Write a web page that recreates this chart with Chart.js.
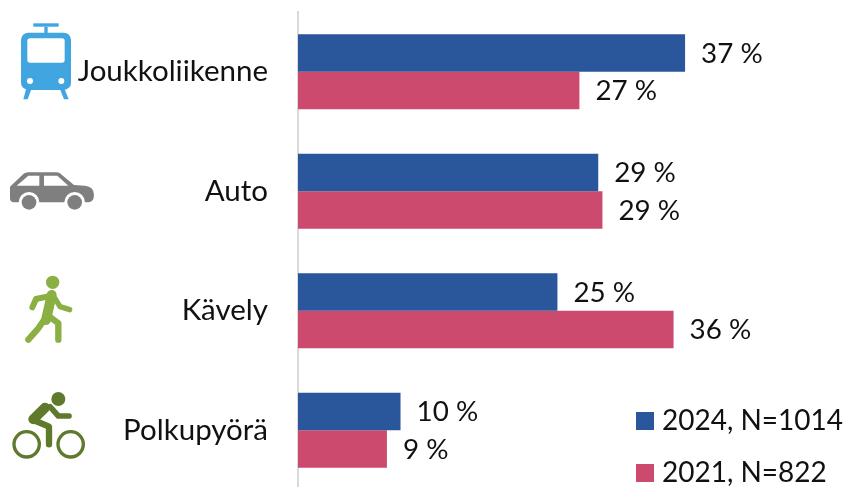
<!DOCTYPE html>
<html><head><meta charset="utf-8">
<style>html,body{margin:0;padding:0;background:#fff;overflow:hidden;width:846px;height:487px}
#w{position:relative;width:846px;height:490px}</style>
<script src="https://cdn.jsdelivr.net/npm/chart.js@4"></script></head>
<body><div id="w"><canvas id="c"></canvas></div>
<script>
const categories = ["Joukkoliikenne","Auto","Kävely","Polkupyörä"];
const series2024 = [37.0,28.7,24.8,9.8];
const series2021 = [26.9,29.1,35.9,8.5];
const label2024 = "2024, N=1014";
const label2021 = "2021, N=822";
const color2024 = "#2a569c";
const color2021 = "#cb4a6e";
const FONT = "Lato, Carlito, sans-serif";

function stroke(ctx,pts,w){ctx.lineWidth=w;ctx.beginPath();pts.forEach((p,i)=>i?ctx.lineTo(p[0],p[1]):ctx.moveTo(p[0],p[1]));ctx.stroke();}
function poly(ctx,pts){ctx.beginPath();pts.forEach((p,i)=>i?ctx.lineTo(p[0],p[1]):ctx.moveTo(p[0],p[1]));ctx.closePath();ctx.fill();}
function disc(ctx,x,y,r){ctx.beginPath();ctx.arc(x,y,r,0,Math.PI*2);ctx.fill();}
const icons = [
 {ox:0,oy:10,draw(c){ // tram
  c.fillStyle="#41a5df";
  c.fillRect(100,40,76,10);c.fillRect(133,50,10,20);
  c.beginPath();c.roundRect(63,68,150,172,22);c.fill();
  poly(c,[[78,238],[94,238],[83,268],[70,268]]);poly(c,[[180,238],[194,238],[206,268],[192,268]]);
  c.fillStyle="#fff";
  c.beginPath();c.roundRect(82,85,112,73,8);c.fill();
  disc(c,90,213,9);disc(c,184,213,9);
 }},
 {ox:0,oy:10,draw(c){ // car
  c.fillStyle="#7f7f7f";
  c.beginPath();c.moveTo(30,530);c.lineTo(70,492);c.quadraticCurveTo(75,487,85,487);c.lineTo(170,487);c.quadraticCurveTo(178,487,185,494);c.lineTo(222,525);c.lineTo(255,527);c.quadraticCurveTo(282,530,282,555);c.quadraticCurveTo(282,577,265,577);c.lineTo(42,577);c.quadraticCurveTo(30,577,30,565);c.closePath();c.fill();
  c.fillStyle="#fff";
  poly(c,[[50,527],[85,497],[118,497],[118,527]]);poly(c,[[132,497],[172,497],[205,527],[132,527]]);
  disc(c,87,577,31);disc(c,224,577,31);
  c.fillStyle="#7f7f7f";disc(c,87,577,22);disc(c,224,577,22);
 }},
 {ox:0,oy:265,draw(c){ // walker
  c.fillStyle=c.strokeStyle="#8ab044";c.lineCap="round";c.lineJoin="round";
  disc(c,158,52,20);
  stroke(c,[[155,92],[108,102],[97,127]],18);
  stroke(c,[[155,90],[138,165]],30);
  stroke(c,[[165,100],[180,125],[209,134]],16);
  stroke(c,[[132,165],[115,190],[85,224]],19);
  stroke(c,[[142,150],[175,175],[175,224]],19);
 }},
 {ox:0,oy:265,draw(c){ // cyclist
  c.fillStyle=c.strokeStyle="#5f7a2d";c.lineCap="round";c.lineJoin="round";
  disc(c,175,402,21);
  stroke(c,[[135,428],[100,463]],30);
  stroke(c,[[150,425],[175,453],[207,453]],17);
  stroke(c,[[100,465],[147,485],[147,538]],19);
  c.lineCap="butt";c.lineWidth=10;
  c.beginPath();c.arc(80,538,38,0,Math.PI*2);c.stroke();
  c.beginPath();c.arc(212,538,38,0,Math.PI*2);c.stroke();
 }}
];

const decor = {
 id:"decor",
 afterLayout(chart){
  const l=chart.legend;
  const w=l.width,h=l.height;
  l.left=618;l.top=383;l.right=l.left+w;l.bottom=l.top+h;
 },
 afterDatasetsDraw(chart){
  const c=chart.ctx;
  icons.forEach(ic=>{c.save();c.setTransform(1/3,0,0,1/3,ic.ox,ic.oy);ic.draw(c);c.restore();});
  c.save();c.font="27.8px "+FONT;c.fillStyle="#111";c.textAlign="left";c.textBaseline="middle";
  chart.data.datasets.forEach((d,i)=>{
   chart.getDatasetMeta(i).data.forEach((bar,j)=>{
    c.fillText(Math.round(d.data[j])+" %",bar.x+16,bar.y+1);
   });
  });
  c.restore();
 }
};

new Chart(document.getElementById("c"),{
 type:"bar",
 data:{labels:categories,datasets:[
  {label:label2024,data:series2024,backgroundColor:color2024},
  {label:label2021,data:series2021,backgroundColor:color2021}
 ]},
 plugins:[decor],
 options:{
  indexAxis:"y",responsive:true,maintainAspectRatio:false,animation:false,
  layout:{padding:{top:12,bottom:0,right:4,left:0}},
  datasets:{bar:{categoryPercentage:0.628,barPercentage:1}},
  scales:{
   x:{display:false,min:0,max:52},
   y:{
    afterFit(s){s.width=298;s.paddingTop=0;s.paddingBottom=0;},
    grid:{display:false,drawTicks:false},
    border:{display:true,color:"#d9d9d9",width:2},
    ticks:{color:"#111",padding:30,font:{family:FONT,size:29.5}}
   }
  },
  plugins:{
   tooltip:{enabled:false},
   legend:{position:"chartArea",align:"start",fullSize:false,
    labels:{font:{family:FONT,size:28},color:"#111",padding:24,boxWidth:6,boxHeight:6,
     generateLabels(ch){return ch.data.datasets.map((d,i)=>({text:d.label,fillStyle:d.backgroundColor,strokeStyle:d.backgroundColor,lineWidth:12,datasetIndex:i,fontColor:"#111"}));}
    }
   }
  }
 }
});
</script></body></html>
